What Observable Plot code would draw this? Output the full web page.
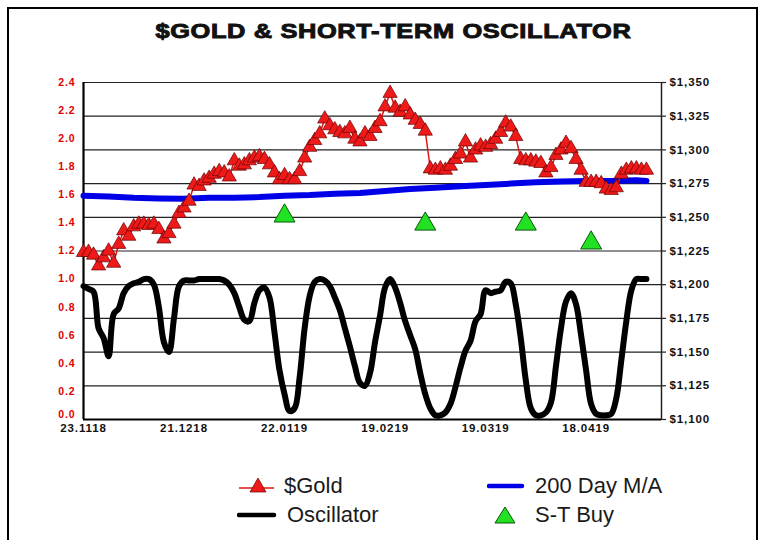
<!DOCTYPE html>
<html><head><meta charset="utf-8">
<script src="https://cdn.jsdelivr.net/npm/d3@7"></script>
<script src="https://cdn.jsdelivr.net/npm/@observablehq/plot@0.6"></script>
<style>
body{margin:0;background:#fff;font-family:"Liberation Sans",Arial,sans-serif;overflow:hidden;width:767px;height:540px;position:relative}
#frame{position:absolute;left:7px;top:7px;width:751px;height:600px;border:2px solid #000;box-sizing:border-box}
#title{position:absolute;left:10px;width:767px;top:20px;text-align:center;font-weight:bold;font-size:20px;color:#111;letter-spacing:0.5px;-webkit-text-stroke:0.9px #111}
#title span{display:inline-block;transform:scaleX(1.27);transform-origin:center}
#chart{position:absolute;left:0;top:0}
#chart svg g[aria-label="y-axis tick label"] text,
#chart svg g[aria-label="x-axis tick label"] text{letter-spacing:0.9px}
.leg{position:absolute;display:flex;align-items:center;font-size:22px;color:#1a1a1a;white-space:nowrap}
</style></head>
<body>
<div id="frame"></div>
<div id="title"><span>$GOLD &amp; SHORT-TERM OSCILLATOR</span></div>
<div id="chart"></div>
<div id="legend"></div>
<script>
// ---- data (x = trading-day index from 23.11.18) ----
const goldPrice = [1224,1224,1222,1214,1220,1225,1216,1230,1240,1236,
  1243,1245,1245,1244,1245,1241,1234,1238,1245,1253,
  1257,1262,1274,1273,1277,1279,1282,1284,1283,1280,
  1292,1288,1289,1292,1294,1295,1293,1289,1283,1278,
  1281,1278,1278,1284,1294,1302,1307,1312,1323,1318,
  1315,1313,1312,1316,1308,1306,1312,1310,1316,1321,
  1332,1342,1331,1328,1332,1326,1322,1319,1314,1286,
  1285,1286,1285,1288,1293,1297,1306,1294,1300,1303,
  1302,1304,1308,1313,1320,1317,1310,1293,1292,1292,
  1291,1290,1283,1287,1296,1300,1305,1301,1293,1285,
  1276,1276,1276,1275,1271,1270,1272,1282,1285,1286,
  1286,1285,1285];
const oscillator = [0.95,0.93,0.91,0.65,0.58,0.45,0.75,0.79,0.90,0.95,
  0.97,0.98,1.00,1.00,0.96,0.80,0.55,0.48,0.72,0.95,
  0.99,0.99,0.99,1.00,1.00,1.00,1.00,1.00,0.99,0.96,
  0.90,0.80,0.71,0.70,0.83,0.92,0.94,0.87,0.62,0.35,
  0.18,0.06,0.08,0.30,0.65,0.88,0.98,1.00,0.99,0.95,
  0.87,0.78,0.65,0.52,0.38,0.26,0.24,0.33,0.55,0.74,
  0.94,1.00,0.94,0.83,0.70,0.60,0.50,0.33,0.18,0.08,
  0.03,0.03,0.05,0.11,0.23,0.37,0.49,0.56,0.70,0.75,
  0.92,0.90,0.91,0.92,0.98,0.97,0.82,0.58,0.28,0.08,
  0.03,0.03,0.05,0.12,0.38,0.65,0.84,0.90,0.82,0.60,
  0.35,0.11,0.04,0.03,0.03,0.04,0.15,0.42,0.70,0.92,
  1.00,1.00,1.00];
const maIndex = [0,5,10,15,20,25,30,35,40,45,50,55,60,65,70,75,80,85,90,95,100,105,110,112];
const maPrice = [1266,1265.5,1264.5,1264,1263.7,1264.5,1264.5,1265,1266,1266.5,1267.5,1268,
  1269.5,1271,1272,1273,1274,1275,1276,1276.5,1277,1277,1277.5,1277];
const buyIndex = [40,68,88,101];
const buyPrice = [1251,1245,1245,1231];
const xTickIndex = [0,20,40,60,80,100];
const xTickLabels = ["23.1118","21.1218","22.0119","19.0219","19.0319","18.0419"];
const leftTicks = [0.2,0.4,0.6,0.8,1.0,1.2,1.4,1.6,1.8,2.0,2.2,2.4];
const leftBottomTick = [0];
const rightTicks = [1100,1125,1150,1175,1200,1225,1250,1275,1300,1325,1350];

// price ($1,100..$1,350) shares the plot's y scale (0..2.4)
const pLo = 1100, pHi = 1350, yHi = 2.4;
const toY = p => (p - pLo) / (pHi - pLo) * yHi;
const fromY = v => pLo + v / yHi * (pHi - pLo);

const gold = goldPrice.map((p, i) => ({i, y: toY(p)}));
const osc = oscillator.map((v, i) => ({i, v}));
const ma = maIndex.map((i, k) => ({i, y: toY(maPrice[k])}));
const buys = buyIndex.map((i, k) => ({i, y: toY(buyPrice[k])}));

const leftAxisStyle = {anchor: "left", tickSize: 0, tickPadding: 8, tickFormat: d => d.toFixed(1),
  fill: "#e00000", fontWeight: "bold", fontSize: 10.5, stroke: "#e00000", strokeWidth: 0.5, label: null};

const chart = Plot.plot({
  width: 767, height: 445,
  marginLeft: 83, marginRight: 106, marginTop: 82, marginBottom: 26,
  x: {domain: [0, 115]},
  y: {domain: [0, yHi]},
  style: {fontFamily: "'Liberation Sans', Arial, sans-serif", background: "transparent"},
  marks: [
    Plot.ruleY(rightTicks.slice(1), {y: toY, stroke: "#222", strokeWidth: 1.2}),
    Plot.ruleY(rightTicks, {y: toY, x1: 115, x2: 116, stroke: "#222", strokeWidth: 1.2}),
    Plot.ruleX([115], {stroke: "#222", strokeWidth: 1.5}),
    Plot.ruleX([0], {stroke: "#000", strokeWidth: 2.2}),
    Plot.ruleY([0], {stroke: "#000", strokeWidth: 2.2}),
    Plot.line(ma, {x: "i", y: "y", stroke: "#0000e8", strokeWidth: 6}),
    Plot.line(osc, {x: "i", y: "v", stroke: "#000", strokeWidth: 6, curve: "catmull-rom"}),
    Plot.line(gold, {x: "i", y: "y", stroke: "#dd1515", strokeWidth: 1.5}),
    Plot.dot(gold, {x: "i", y: "y", symbol: "triangle", r: 5.3, fill: "#ee1a1a", stroke: "#6a0000", strokeWidth: 0.7}),
    Plot.dot(buys, {x: "i", y: "y", symbol: "triangle", r: 7.8, fill: "#22e022", stroke: "#0a5a0a", strokeWidth: 1}),
    Plot.axisY(leftTicks, leftAxisStyle),
    Plot.axisY(leftBottomTick, {...leftAxisStyle, dy: -5}),
    Plot.axisY(rightTicks.map(toY), {anchor: "right", tickSize: 0, tickPadding: 8,
      tickFormat: v => "$" + d3.format(",")(Math.round(fromY(v))),
      fill: "#111", fontWeight: "bold", fontSize: 11.5, stroke: "#111", strokeWidth: 0.5, label: null}),
    Plot.axisX(xTickIndex, {tickSize: 0, tickPadding: 4, tickFormat: (d, k) => xTickLabels[k],
      fill: "#111", fontWeight: "bold", fontSize: 11.5, stroke: "#111", strokeWidth: 0.5, label: null})
  ]
});
document.getElementById("chart").appendChild(chart);

// ---- legend ----
const legendItems = [
  {label: "$Gold", kind: "gold", lx: 238, tx: 284, cy: 486},
  {label: "200 Day M/A", kind: "ma", lx: 487, tx: 535, cy: 486},
  {label: "Oscillator", kind: "osc", lx: 237, tx: 287, cy: 515},
  {label: "S-T Buy", kind: "buy", lx: 487, tx: 535, cy: 515}
];
const leg = document.getElementById("legend");
for (const it of legendItems) {
  const sw = document.createElementNS("http://www.w3.org/2000/svg", "svg");
  sw.setAttribute("width", 42); sw.setAttribute("height", 24);
  sw.style.position = "absolute"; sw.style.left = it.lx + "px"; sw.style.top = (it.cy - 12) + "px";
  let inner = "";
  if (it.kind === "gold") inner = `<line x1="1" x2="36" y1="14" y2="14" stroke="#dd1515" stroke-width="1.5"/><path d="M20,4 L28,18 L12,18 Z" fill="#ee1a1a" stroke="#6a0000" stroke-width="0.7"/>`;
  if (it.kind === "ma") inner = `<line x1="2" x2="35" y1="12" y2="12" stroke="#0000e8" stroke-width="4.5" stroke-linecap="round"/>`;
  if (it.kind === "osc") inner = `<line x1="2" x2="37" y1="12" y2="12" stroke="#000" stroke-width="4.5" stroke-linecap="round"/>`;
  if (it.kind === "buy") inner = `<path d="M18,4 L28,20 L8,20 Z" fill="#22e022" stroke="#0a5a0a" stroke-width="1"/>`;
  sw.innerHTML = inner;
  leg.appendChild(sw);
  const t = document.createElement("div");
  t.className = "leg"; t.textContent = it.label;
  t.style.left = it.tx + "px"; t.style.top = (it.cy - 13) + "px"; t.style.lineHeight = "26px";
  leg.appendChild(t);
}
</script>
</body></html>
